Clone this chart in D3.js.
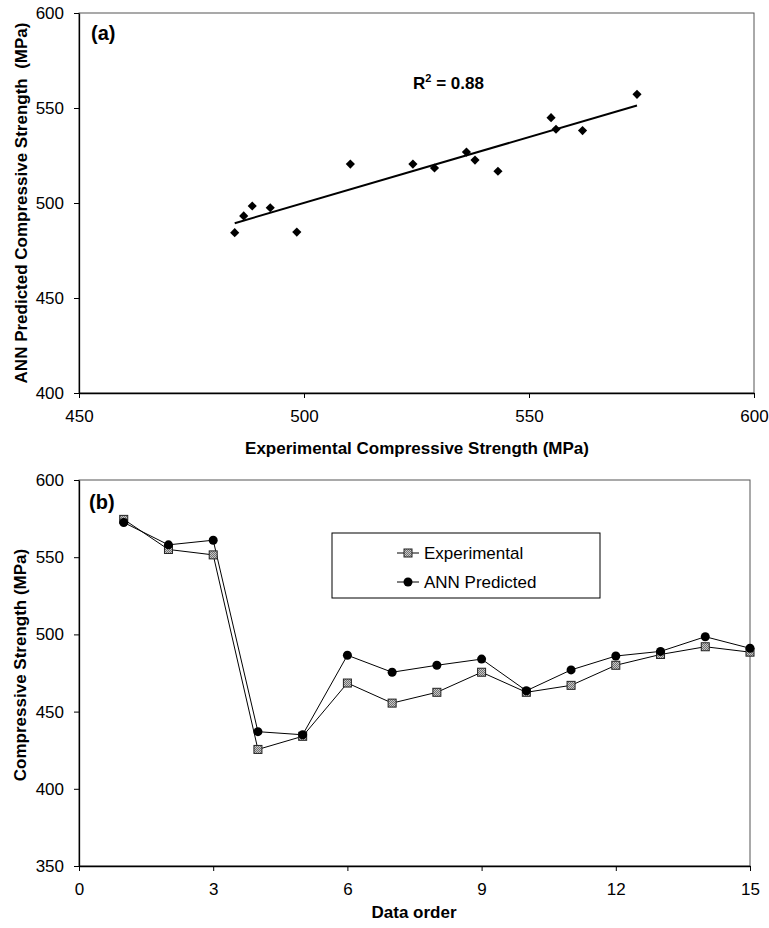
<!DOCTYPE html>
<html>
<head>
<meta charset="utf-8">
<script src="https://cdn.jsdelivr.net/npm/d3@7"></script>
<style>
  body { margin: 0; background: #fff; }
  text { font-family: "Liberation Sans", Arial, sans-serif; fill: #000; }
  .tick text { font-size: 17px; }
  .axis path, .axis line { stroke: #000; }
  .title { font-size: 17px; font-weight: bold; }
</style>
</head>
<body>
<div class="chart-wrapper"></div>
<script>
//Panel (a): experimental vs ANN predicted strength
var expStrength = [484.6, 486.6, 488.5, 492.5, 498.4, 510.3, 524.2, 529.0, 536.1, 538.0, 543.1, 554.9, 556.0, 561.9, 574.0];
var annStrength = [484.4, 493.2, 498.4, 497.5, 484.7, 520.5, 520.5, 518.4, 526.8, 522.6, 516.7, 544.9, 538.8, 538.1, 557.2];
var xTicksA = [450, 500, 550, 600];
var yTicksA = [400, 450, 500, 550, 600];

//Panel (b): strength against data order
var dataOrder = [1, 2, 3, 4, 5, 6, 7, 8, 9, 10, 11, 12, 13, 14, 15];
var experimental = [574.5, 555, 551.5, 425.5, 434, 468.5, 455.5, 462.5, 475.5, 462.5, 467, 480, 487, 492, 488.5];
var annPredicted = [572.5, 558, 561, 437, 435, 486.5, 475.5, 480, 484, 463.5, 477, 486, 489, 498.5, 491];
var xTicksB = [0, 3, 6, 9, 12, 15];
var yTicksB = [350, 400, 450, 500, 550, 600];
var seriesNames = ["Experimental", "ANN Predicted"];

var width = 769, height = 928;

var svg = d3.select(".chart-wrapper").append("svg")
  .attr("width", width)
  .attr("height", height);

//Checker fill used by the experimental squares
var pat = svg.append("defs").append("pattern")
  .attr("id", "checker")
  .attr("width", 2).attr("height", 2)
  .attr("patternUnits", "userSpaceOnUse");
pat.append("rect").attr("width", 2).attr("height", 2).attr("fill", "#c8c8c8");
pat.append("rect").attr("width", 1).attr("height", 1).attr("fill", "#707070");
pat.append("rect").attr("x", 1).attr("y", 1).attr("width", 1).attr("height", 1).attr("fill", "#707070");

//Draws the box, axes and ticks of a panel
function frame(x, y, xTicks, yTicks) {
  var g = svg.append("g");
  var x0 = x.range()[0], x1 = x.range()[1], y0 = y.range()[0], y1 = y.range()[1];
  g.append("rect")
    .attr("x", x0).attr("y", y1)
    .attr("width", x1 - x0).attr("height", y0 - y1)
    .attr("fill", "none").attr("stroke", "#555").attr("stroke-width", 1);
  g.append("g")
    .attr("class", "axis")
    .attr("transform", "translate(0," + y0 + ")")
    .call(d3.axisBottom(x).tickValues(xTicks).tickSize(5).tickPadding(12).tickSizeOuter(0));
  g.append("g")
    .attr("class", "axis")
    .attr("transform", "translate(" + x0 + ",0)")
    .call(d3.axisLeft(y).tickValues(yTicks).tickSize(5).tickPadding(10).tickSizeOuter(0));
  g.selectAll(".domain").attr("stroke-width", 1.3);
  return g;
}

// ---------- panel (a) ----------
var xA = d3.scaleLinear().domain([450, 600]).range([79, 754]);
var yA = d3.scaleLinear().domain([400, 600]).range([393, 13]);
frame(xA, yA, xTicksA, yTicksA);

//Least squares trend line through the points
var mx = d3.mean(expStrength), my = d3.mean(annStrength);
var sxy = d3.sum(expStrength, function(d, i) { return (d - mx) * (annStrength[i] - my); });
var sxx = d3.sum(expStrength, function(d) { return (d - mx) * (d - mx); });
var slope = sxy / sxx, icpt = my - slope * mx;
var ext = d3.extent(expStrength);
svg.append("line")
  .attr("x1", xA(ext[0])).attr("y1", yA(icpt + slope * ext[0]))
  .attr("x2", xA(ext[1])).attr("y2", yA(icpt + slope * ext[1]))
  .attr("stroke", "#000").attr("stroke-width", 2);

svg.selectAll(".pt")
  .data(expStrength)
  .enter().append("path")
  .attr("class", "pt")
  .attr("d", d3.symbol().type(d3.symbolSquare).size(42))
  .attr("transform", function(d, i) {
    return "translate(" + xA(d) + "," + yA(annStrength[i]) + ") rotate(45)";
  })
  .attr("fill", "#000");

svg.append("text").attr("x", 91).attr("y", 40)
  .style("font-size", "20px").style("font-weight", "bold").text("(a)");

var r2 = svg.append("text").attr("x", 413).attr("y", 89)
  .style("font-size", "17px").style("font-weight", "bold");
r2.append("tspan").text("R");
r2.append("tspan").attr("dy", -7).style("font-size", "11px").text("2");
r2.append("tspan").attr("dy", 7).text(" = 0.88");

svg.append("text").attr("class", "title")
  .attr("x", 417).attr("y", 454).attr("text-anchor", "middle")
  .text("Experimental Compressive Strength (MPa)");
svg.append("text").attr("class", "title")
  .attr("transform", "translate(27," + ((13 + 393) / 2) + ") rotate(-90)")
  .attr("text-anchor", "middle")
  .style("white-space", "pre")
  .text("ANN Predicted Compressive Strength  (MPa)");

// ---------- panel (b) ----------
var xB = d3.scaleLinear().domain([0, 15]).range([79, 750]);
var yB = d3.scaleLinear().domain([350, 600]).range([866, 480]);
frame(xB, yB, xTicksB, yTicksB);

var line = d3.line()
  .x(function(d, i) { return xB(dataOrder[i]); })
  .y(function(d) { return yB(d); });

svg.append("path").datum(experimental)
  .attr("d", line).attr("fill", "none").attr("stroke", "#000").attr("stroke-width", 1);
svg.append("path").datum(annPredicted)
  .attr("d", line).attr("fill", "none").attr("stroke", "#000").attr("stroke-width", 1);

svg.selectAll(".exp")
  .data(experimental)
  .enter().append("rect")
  .attr("class", "exp")
  .attr("x", function(d, i) { return xB(dataOrder[i]) - 4; })
  .attr("y", function(d) { return yB(d) - 4; })
  .attr("width", 8).attr("height", 8)
  .attr("fill", "url(#checker)").attr("stroke", "#222").attr("stroke-width", 1);

svg.selectAll(".ann")
  .data(annPredicted)
  .enter().append("circle")
  .attr("class", "ann")
  .attr("cx", function(d, i) { return xB(dataOrder[i]); })
  .attr("cy", function(d) { return yB(d); })
  .attr("r", 4.5)
  .attr("fill", "#000");

svg.append("text").attr("x", 89).attr("y", 509)
  .style("font-size", "20px").style("font-weight", "bold").text("(b)");

//Legend box
var legend = svg.append("g");
legend.append("rect")
  .attr("x", 332).attr("y", 533).attr("width", 268).attr("height", 65)
  .attr("fill", "#fff").attr("stroke", "#000").attr("stroke-width", 1);
var item = legend.selectAll(".item")
  .data(seriesNames)
  .enter().append("g")
  .attr("class", "item")
  .attr("transform", function(d, i) { return "translate(0," + (553 + i * 29) + ")"; });
item.append("line")
  .attr("x1", 397).attr("x2", 419).attr("stroke", "#000");
item.filter(function(d, i) { return i === 0; }).append("rect")
  .attr("x", 404).attr("y", -4).attr("width", 8).attr("height", 8)
  .attr("fill", "url(#checker)").attr("stroke", "#222");
item.filter(function(d, i) { return i === 1; }).append("circle")
  .attr("cx", 408).attr("r", 4.5).attr("fill", "#000");
item.append("text")
  .attr("x", 424).attr("y", 6)
  .style("font-size", "17px")
  .text(function(d) { return d; });

svg.append("text").attr("class", "title")
  .attr("x", 414).attr("y", 918).attr("text-anchor", "middle")
  .text("Data order");
svg.append("text").attr("class", "title")
  .attr("transform", "translate(26,665) rotate(-90)")
  .attr("text-anchor", "middle")
  .text("Compressive Strength (MPa)");
</script>
</body>
</html>
